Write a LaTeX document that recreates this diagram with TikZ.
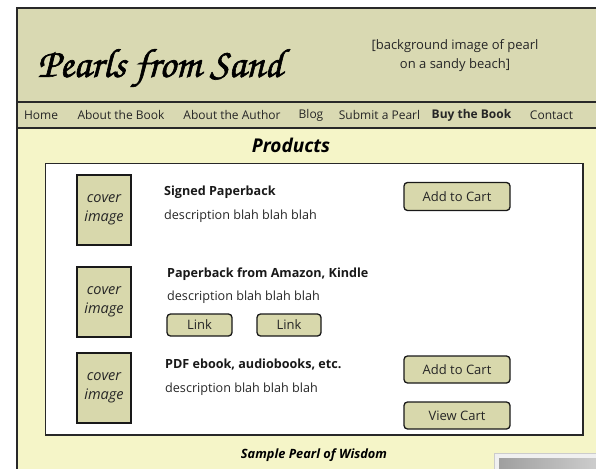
\documentclass[tikz,border=0pt]{standalone}
\usepackage{fontspec}
\setmainfont{Open Sans}
\newfontfamily\titlefont{texgyrechorus-mediumitalic.otf}
\definecolor{headfill}{RGB}{217,217,178}
\definecolor{bodyfill}{RGB}{245,245,200}
\definecolor{btnfill}{RGB}{216,216,172}
\definecolor{framecol}{RGB}{40,40,40}
\tikzset{
  frameline/.style={draw=framecol, line width=1.3pt},
  navitem/.style={font=\fontsize{12}{14}\selectfont, inner sep=0pt, text=black!85},
  btn/.style={draw=black!90, line width=1.3pt, fill=btnfill, rounded corners=3.5pt, font=\fontsize{13}{15}\selectfont, inner sep=0pt, text=black!85},
  cover/.style={draw=black!90, line width=1.3pt, fill=btnfill, minimum width=54pt, minimum height=70pt, inner sep=0pt, align=center, font=\fontsize{14.5}{19}\selectfont\itshape, text=black!85},
  ptitle/.style={anchor=west, inner sep=0pt, font=\fontsize{12.6}{14}\selectfont\bfseries, text=black!90},
  pdesc/.style={anchor=west, inner sep=0pt, font=\fontsize{12.6}{14}\selectfont, text=black!85}
}
\begin{document}
\begin{tikzpicture}[x=1pt,y=-1pt]
\useasboundingbox (0,0) rectangle (596,468);
\clip (0,0) rectangle (596,468);
\fill[white] (0,0) rectangle (596,468);
% page areas
\fill[headfill] (17,8) rectangle (610,128);
\fill[bodyfill] (17,128) rectangle (610,480);
\draw[frameline] (17,480) -- (17,8) -- (610,8);
\draw[frameline] (17,102) -- (610,102);
\draw[frameline] (17,128) -- (610,128);
% header
\node[inner sep=0pt] (title) at (160,68) {\resizebox{245pt}{!}{\titlefont\fontspec[FakeBold=1.5]{texgyrechorus-mediumitalic.otf}Pearls from Sand}};
\node[inner sep=0pt, align=center, font=\fontsize{13}{19}\selectfont, text=black!85] (bgnote) at (455,56) {[background image of pearl\\on a sandy beach]};
% nav
\node[navitem] (home) at (41,115) {Home};
\node[navitem] (abook) at (121,115) {About the Book};
\node[navitem] (aauthor) at (232,115) {About the Author};
\node[navitem] (blog) at (311,115) {Blog};
\node[navitem] (submit) at (379.5,115) {Submit a Pearl};
\node[navitem, font=\fontsize{12}{14}\selectfont\bfseries] (buy) at (471.5,115) {Buy the Book};
\node[navitem] (contact) at (551.5,115) {Contact};
% products
\node[inner sep=0pt, font=\fontsize{19}{22}\selectfont\bfseries\itshape] (products) at (291,145) {Products};
\draw[frameline, fill=white] (45.5,163.5) rectangle (583,435) coordinate (panelse);
\node[cover] (c1) at (104,210) {cover\\image};
\node[cover] (c2) at (104,302) {cover\\image};
\node[cover] (c3) at (104,388) {cover\\image};
\node[ptitle] (t1) at (164,192) {Signed Paperback};
\node[pdesc] (d1) at (164,216) {description blah blah blah};
\node[ptitle] (t2) at (167,274) {Paperback from Amazon, Kindle};
\node[pdesc] (d2) at (167,297) {description blah blah blah};
\node[btn, minimum width=65pt, minimum height=22pt] (l1) at (199.5,325) {Link};
\node[btn, minimum width=64pt, minimum height=22pt] (l2) at (289,325) {Link};
\node[ptitle] (t3) at (165,365) {PDF ebook, audiobooks, etc.};
\node[pdesc] (d3) at (165,389) {description blah blah blah};
\node[btn, minimum width=106pt, minimum height=28pt] (add1) at (457,196.5) {Add to Cart};
\node[btn, minimum width=106pt, minimum height=27pt] (add2) at (457,369.5) {Add to Cart};
\node[btn, minimum width=106pt, minimum height=27pt] (view) at (457,415.5) {View Cart};
% footer
\node[inner sep=0pt, font=\fontsize{12.8}{15}\selectfont\bfseries\itshape] (sample) at (314,455) {Sample Pearl of Wisdom};
\draw[draw=gray!40, fill=gray!12] (494,453) rectangle (610,480);
\shade[left color=gray!75, right color=gray!35] (499,458) rectangle (610,480);
\end{tikzpicture}
\end{document}
